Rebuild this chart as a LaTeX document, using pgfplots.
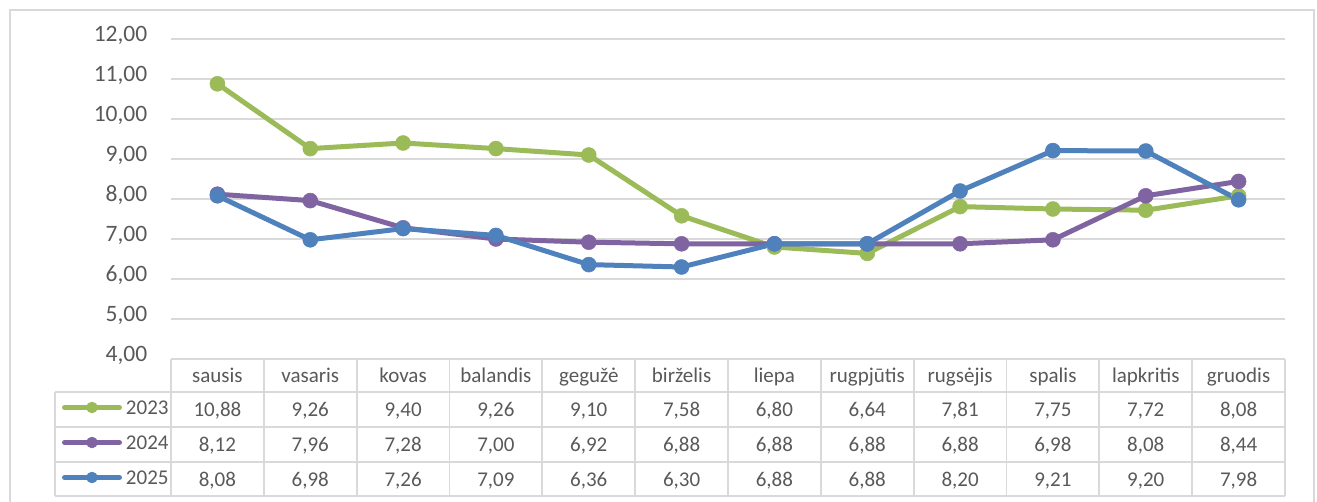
\documentclass[border=0pt]{standalone}
\usepackage{pgfplots}
\usepackage{pgfplotstable}
\pgfplotsset{compat=1.18}
\usepackage{fontspec}
\setmainfont{Carlito}
\definecolor{cgreen}{HTML}{9BBB59}
\definecolor{cpurple}{HTML}{8064A2}
\definecolor{cblue}{HTML}{4F81BD}
\definecolor{ctext}{HTML}{595959}
\definecolor{cgrid}{HTML}{D9D9D9}
\newcommand\tf{\fontsize{21}{25}\selectfont}
\newcommand\yf{\fontsize{23.5}{28}\selectfont}
\pgfplotstableread{
m y2023 y2024 y2025
0 10.88 8.12 8.08
1 9.26 7.96 6.98
2 9.40 7.28 7.26
3 9.26 7.00 7.09
4 9.10 6.92 6.36
5 7.58 6.88 6.30
6 6.80 6.88 6.88
7 6.64 6.88 6.88
8 7.81 6.88 8.20
9 7.75 6.98 9.21
10 7.72 8.08 9.20
11 8.08 8.44 7.98
}\datatable
\begin{document}
\begin{tikzpicture}[x=1pt,y=1pt]
\useasboundingbox (0,0) rectangle (1317,501);
\draw[cgrid, line width=1.5pt] (10,-10) -- (10,491) -- (1314,491) -- (1314,-10);
\begin{axis}[
  at={(171pt,142pt)}, anchor=south west, scale only axis,
  width=1114pt, height=320pt,
  xmin=-0.5, xmax=11.5, ymin=4, ymax=12,
  xtick={0,...,11},
  xticklabels={sausis,vasaris,kovas,balandis,gegužė,birželis,liepa,rugpjūtis,rugsėjis,spalis,lapkritis,gruodis},
  ytick={4,5,...,12},
  ymajorgrids, grid style={cgrid, line width=1.8pt},
  axis line style={draw=none},
  major tick length=0pt,
  tick label style={text=ctext},
  xticklabel style={font=\tf, anchor=base, inner sep=0pt, yshift=-23pt},
  yticklabel style={font=\yf, anchor=mid east, inner sep=0pt, xshift=-23.5pt, yshift=-0.5pt,
    /pgf/number format/fixed, /pgf/number format/fixed zerofill,
    /pgf/number format/precision=2, /pgf/number format/use comma,
    /pgf/number format/assume math mode=true},
  clip=false,
  legend style={at={(axis description cs:-0.09785,-0.128125)}, anchor=north west,
    draw=none, fill=none, inner sep=0pt, outer sep=0pt,
    row sep=15pt, column sep=4pt,
    nodes={inner sep=0pt, text height=14pt, text depth=6pt, font=\tf, text=ctext}},
  legend cell align=left,
  legend image code/.code={\draw[mark repeat=2,mark phase=2,#1, mark size=5.5pt] plot coordinates {(0pt,2.5pt) (27.5pt,2.5pt) (55pt,2.5pt)};},
  every axis plot/.append style={line width=5pt, line cap=round, line join=round, mark=*, mark size=7.5pt},
]
\addplot[cgreen, mark options={solid, fill=cgreen, draw=cgreen, line width=0.5pt}] table[x=m,y=y2023]{\datatable};
\addlegendentry{2023}
\addplot[cpurple, mark options={solid, fill=cpurple, draw=cpurple, line width=0.5pt}] table[x=m,y=y2024]{\datatable};
\addlegendentry{2024}
\addplot[cblue, mark options={solid, fill=cblue, draw=cblue, line width=0.5pt}] table[x=m,y=y2025]{\datatable};
\addlegendentry{2025}
\end{axis}
\begin{scope}[cgrid, line width=1.8pt]
\draw (171,142) -- (1285,142);
\foreach \y in {109,74,39,5} \draw (55,\y) -- (1285,\y);
\draw (55,5) -- (55,109);
\foreach \i in {0,...,12} \draw ({171+92.8333*\i},5) -- ({171+92.8333*\i},142);
\end{scope}
\foreach \col/\yb in {y2023/85,y2024/50,y2025/15}{
  \foreach \i in {0,...,11}{
    \pgfplotstablegetelem{\i}{\col}\of\datatable
    \node[anchor=base, inner sep=0pt, font=\tf, text=ctext] at ({171+92.8333*(\i+0.5)},\yb)
      {\pgfmathprintnumber[fixed, fixed zerofill, precision=2, use comma, assume math mode=true]{\pgfplotsretval}};
  }
}
\end{tikzpicture}
\end{document}
